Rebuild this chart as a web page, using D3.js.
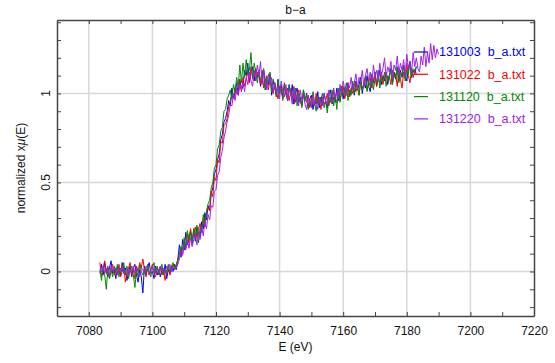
<!DOCTYPE html>
<html>
<head>
<meta charset="utf-8">
<script src="https://cdn.jsdelivr.net/npm/d3@7"></script>
<style>
  body { margin: 0; background: #fff; }
  svg { display: block; font-family: "Liberation Sans", Arial, sans-serif; }
</style>
</head>
<body>
<svg id="chart" width="555" height="363"></svg>
<script>
// chart data
const chartTitle = 'b\u2212a';
const xLabel = 'E (eV)';
const seriesNames = ['131003 b_a.txt', '131022 b_a.txt', '131120 b_a.txt', '131220 b_a.txt'];
const xMajorTicks = [7080, 7100, 7120, 7140, 7160, 7180, 7200, 7220];
const yMajorTicks = [0, 0.5, 1];
const yTickLabels = ['0', '0.5', '1'];

// energy grid of the scans (eV)
const energyStart = 7083.5;
const energyStep = 0.5;

const scan131003 = [
  -0.01, 0.04, -0.02, 0.05, 0.00, -0.03, 0.02, 0.06, -0.01, 0.01,
  -0.04, 0.03, 0.01, -0.02, 0.05, -0.01, 0.02, -0.05, 0.00, 0.03,
  -0.03, 0.02, 0.04, -0.02, -0.06, 0.01, -0.03, -0.12, 0.03, -0.02,
  0.02, 0.05, -0.01, 0.00, -0.04, 0.03, -0.02, 0.01, -0.03, 0.02,
  -0.02, 0.04, -0.04, 0.01, -0.01, 0.03, 0.00, 0.04, 0.01, 0.07,
  0.15, 0.08, 0.18, 0.12, 0.22, 0.15, 0.19, 0.23, 0.16, 0.24,
  0.17, 0.25, 0.21, 0.19, 0.28, 0.24, 0.33, 0.29, 0.37, 0.34,
  0.44, 0.47, 0.55, 0.57, 0.63, 0.66, 0.74, 0.77, 0.84, 0.86,
  0.90, 0.96, 0.93, 1.03, 0.97, 1.00, 1.06, 0.99, 1.08, 1.02,
  1.04, 1.13, 1.10, 1.17, 1.06, 1.12, 1.15, 1.07, 1.14, 1.09,
  1.12, 1.04, 1.09, 1.13, 1.02, 1.08, 1.05, 1.11, 0.99, 1.07,
  1.03, 0.98, 1.08, 1.00, 1.05, 0.97, 1.04, 1.01, 0.96, 1.05,
  0.99, 1.05, 0.94, 1.00, 1.03, 0.95, 0.98, 0.93, 1.02, 0.96,
  1.00, 0.92, 0.97, 0.99, 0.91, 0.96, 0.94, 1.01, 0.92, 0.98,
  0.93, 1.00, 0.95, 0.92, 0.99, 1.02, 0.94, 0.98, 0.95, 1.03,
  0.96, 1.01, 1.04, 0.97, 1.03, 0.99, 1.06, 0.98, 1.02, 1.05,
  0.99, 1.07, 1.02, 1.05, 1.09, 1.00, 1.06, 1.03, 1.10, 1.04,
  1.01, 1.09, 1.06, 1.12, 1.04, 1.08, 1.13, 1.05, 1.10, 1.07,
  1.12, 1.05, 1.10, 1.14, 1.06, 1.12, 1.08, 1.15, 1.07, 1.13,
  1.09, 1.16, 1.10, 1.07, 1.14, 1.18, 1.09, 1.13, 1.11, 1.15
];

const scan131022 = [
  0.05, -0.03, 0.02, 0.06, -0.01, 0.03, -0.04, 0.01, 0.04, -0.02,
  0.02, -0.01, 0.04, -0.03, 0.00, 0.03, -0.06, -0.01, 0.02, 0.05,
  -0.02, 0.01, -0.04, 0.03, 0.00, 0.05, 0.02, 0.07, 0.01, -0.03,
  0.03, -0.02, 0.01, 0.04, -0.01, -0.03, 0.02, 0.00, 0.03, -0.02,
  0.01, -0.05, 0.00, 0.03, -0.02, 0.01, 0.04, 0.02, 0.03, 0.06,
  0.09, 0.12, 0.10, 0.17, 0.14, 0.21, 0.16, 0.24, 0.18, 0.21,
  0.25, 0.19, 0.24, 0.27, 0.22, 0.30, 0.25, 0.33, 0.36, 0.34,
  0.45, 0.42, 0.53, 0.51, 0.63, 0.61, 0.73, 0.72, 0.82, 0.83,
  0.86, 0.93, 0.95, 0.99, 0.97, 1.03, 1.00, 1.02, 1.07, 1.01,
  1.09, 1.04, 1.08, 1.12, 1.06, 1.15, 1.09, 1.13, 1.07, 1.12,
  1.10, 1.05, 1.13, 1.03, 1.07, 1.10, 1.02, 1.09, 1.04, 1.00,
  1.06, 1.01, 0.97, 1.04, 1.02, 0.98, 1.06, 0.99, 1.03, 0.96,
  1.01, 0.97, 1.04, 0.95, 0.99, 1.02, 0.96, 0.93, 1.00, 0.97,
  0.95, 0.99, 0.92, 0.98, 0.96, 0.93, 1.00, 0.94, 0.97, 0.91,
  0.98, 0.94, 0.96, 1.00, 0.93, 0.98, 0.95, 1.01, 0.97, 0.95,
  1.02, 0.96, 1.00, 1.04, 0.97, 1.01, 1.05, 0.98, 1.03, 1.00,
  1.06, 1.01, 1.04, 0.99, 1.07, 1.03, 1.05, 1.09, 1.02, 1.06,
  1.09, 1.03, 1.07, 1.11, 1.04, 1.08, 1.06, 1.12, 1.05, 1.09,
  1.12, 1.07, 1.10, 1.05, 1.13, 1.09, 1.11, 1.04, 1.14, 1.08,
  1.03, 1.12, 1.08, 1.17, 1.10, 1.06, 1.14, 1.09, 1.13, 1.11
];

const scan131120 = [
  0.01, -0.05, 0.03, -0.02, -0.10, 0.02, -0.04, 0.01, -0.03, 0.03,
  -0.01, 0.04, -0.03, 0.02, 0.00, 0.05, -0.02, 0.03, -0.04, 0.01,
  0.03, -0.02, -0.09, 0.01, -0.03, 0.04, 0.00, -0.02, 0.02, -0.01,
  0.04, 0.00, -0.03, 0.02, 0.05, -0.01, 0.03, -0.02, 0.01, 0.04,
  -0.02, 0.02, -0.01, 0.04, 0.00, 0.03, 0.05, 0.01, 0.04, 0.07,
  0.10, 0.14, 0.12, 0.19, 0.13, 0.23, 0.18, 0.22, 0.15, 0.24,
  0.19, 0.26, 0.16, 0.25, 0.22, 0.32, 0.27, 0.34, 0.38, 0.40,
  0.47, 0.50, 0.58, 0.60, 0.69, 0.71, 0.79, 0.81, 0.90, 0.91,
  0.97, 0.99, 1.02, 0.97, 1.05, 1.01, 1.09, 1.04, 1.16, 1.06,
  1.17, 1.09, 1.19, 1.11, 1.13, 1.23, 1.08, 1.17, 1.12, 1.06,
  1.13, 1.07, 1.10, 1.14, 1.02, 1.09, 1.06, 1.12, 1.01, 1.08,
  1.04, 0.98, 1.07, 1.01, 1.03, 0.96, 1.05, 1.00, 0.97, 1.04,
  1.02, 0.95, 0.99, 1.03, 0.93, 1.00, 0.97, 0.92, 1.02, 0.96,
  0.99, 0.91, 0.96, 0.93, 1.01, 0.95, 0.90, 0.98, 0.94, 0.97,
  1.00, 0.92, 0.96, 0.89, 0.98, 0.95, 1.02, 0.93, 0.99, 0.91,
  1.03, 0.95, 1.04, 0.99, 1.01, 1.06, 0.96, 1.02, 0.99, 1.07,
  1.00, 1.06, 1.03, 0.99, 1.08, 1.02, 1.05, 1.10, 1.01, 1.07,
  1.04, 1.11, 1.02, 1.08, 1.06, 1.13, 1.03, 1.09, 1.07, 1.12,
  1.04, 1.10, 1.08, 1.14, 1.05, 1.11, 1.09, 1.15, 1.06, 1.12,
  1.10, 1.16, 1.07, 1.13, 1.11, 1.17, 1.09, 1.14, 1.13, 1.15
];

const scan131220 = [
  0.02, 0.00, 0.03, -0.01, 0.02, 0.01, -0.02, 0.03, 0.00, 0.02,
  0.01, -0.02, 0.02, 0.00, 0.03, -0.01, 0.01, 0.02, -0.02, 0.01,
  0.00, 0.03, -0.01, 0.02, 0.00, -0.03, 0.02, 0.01, -0.01, 0.03,
  0.02, -0.02, 0.01, 0.03, 0.00, 0.02, -0.01, 0.01, 0.03, 0.00,
  0.02, -0.01, 0.03, 0.01, 0.04, 0.00, 0.02, 0.01, 0.02, 0.04,
  0.07, 0.11, 0.09, 0.15, 0.12, 0.18, 0.13, 0.19, 0.14, 0.18,
  0.21, 0.15, 0.22, 0.18, 0.25, 0.20, 0.28, 0.24, 0.32, 0.29,
  0.37, 0.36, 0.45, 0.46, 0.54, 0.56, 0.64, 0.68, 0.75, 0.79,
  0.84, 0.88, 0.94, 0.93, 1.00, 0.96, 1.03, 0.99, 1.05, 1.02,
  1.06, 1.01, 1.09, 1.05, 1.12, 1.07, 1.04, 1.13, 1.08, 1.16,
  1.10, 1.18, 1.05, 1.13, 1.08, 1.02, 1.11, 1.05, 1.09, 1.01,
  1.06, 1.00, 1.04, 0.97, 1.07, 1.01, 0.98, 1.05, 0.96, 1.02,
  1.00, 0.94, 1.03, 0.97, 0.99, 0.93, 1.02, 0.96, 0.99, 0.94,
  0.91, 0.98, 0.95, 0.92, 0.99, 0.94, 0.97, 0.91, 0.98, 0.95,
  0.93, 1.00, 0.96, 0.94, 1.02, 0.97, 0.95, 1.03, 0.98, 1.01,
  0.97, 1.05, 1.00, 1.07, 1.02, 0.99, 1.06, 1.03, 1.09, 1.02,
  1.06, 1.11, 1.03, 1.09, 1.06, 1.13, 1.04, 1.10, 1.14, 1.07,
  1.12, 1.05, 1.16, 1.09, 1.13, 1.07, 1.17, 1.10, 1.14, 1.20,
  1.09, 1.15, 1.12, 1.18, 1.08, 1.16, 1.13, 1.21, 1.11, 1.17,
  1.13, 1.19, 1.10, 1.22, 1.14, 1.18, 1.12, 1.23, 1.15, 1.20,
  1.14, 1.12, 1.21, 1.16, 1.26, 1.15, 1.23, 1.17, 1.28, 1.19,
  1.27, 1.20, 1.25, 1.22
];

const seriesValues = [scan131003, scan131022, scan131120, scan131220];
const seriesColors = ['#0000ff', '#ff0000', '#008c00', '#a020f0'];

const svg = d3.select('#chart');
const width = +svg.attr('width');
const height = +svg.attr('height');
const margin = { top: 20, right: 21, bottom: 47, left: 57 };
const innerWidth = width - margin.left - margin.right;
const innerHeight = height - margin.top - margin.bottom;

const xScale = d3.scaleLinear().domain([7070, 7220]).range([0, innerWidth]);
const yScale = d3.scaleLinear().domain([-0.25, 1.4125]).range([innerHeight, 0]);

const grp = svg
  .append('g')
  .attr('transform', 'translate(' + margin.left + ',' + margin.top + ')');

// grid
grp
  .append('g')
  .selectAll('line')
  .data(xMajorTicks.filter((d) => d < 7220))
  .join('line')
  .attr('x1', (d) => xScale(d))
  .attr('x2', (d) => xScale(d))
  .attr('y1', 0)
  .attr('y2', innerHeight)
  .attr('stroke', '#d8d8d8')
  .attr('stroke-width', 1.5);

grp
  .append('g')
  .selectAll('line')
  .data(yMajorTicks)
  .join('line')
  .attr('x1', 0)
  .attr('x2', innerWidth)
  .attr('y1', (d) => yScale(d))
  .attr('y2', (d) => yScale(d))
  .attr('stroke', '#d8d8d8')
  .attr('stroke-width', 1.5);

// spectra
const line = d3
  .line()
  .x((d, i) => xScale(energyStart + i * energyStep))
  .y((d) => yScale(d));

grp
  .selectAll('.scan')
  .data(seriesValues)
  .join('path')
  .attr('class', 'scan')
  .attr('fill', 'none')
  .attr('stroke', (d, i) => seriesColors[i])
  .attr('stroke-width', 1)
  .attr('d', line);

// axes, ticks pointing inward on all four sides
const xMinor = d3.range(7070, 7221, 10);
const yMinor = d3.range(-0.2, 1.41, 0.1);

function styleAxis(g) {
  g.select('.domain').attr('stroke', '#444').attr('stroke-width', 1.5);
  g.selectAll('.tick line').attr('stroke', '#444').attr('stroke-width', 1);
  g.selectAll('.tick text').filter(function () { return this.textContent === ''; }).remove();
}

grp
  .append('g')
  .attr('transform', 'translate(0,' + innerHeight + ')')
  .call(d3.axisBottom(xScale).tickValues(xMinor).tickSize(-4).tickSizeOuter(0).tickPadding(10)
    .tickFormat((d) => (xMajorTicks.includes(d) ? d : '')))
  .call(styleAxis)
  .call((g) => g.selectAll('text').attr('font-size', 12).attr('fill', '#111'));

grp
  .append('g')
  .call(d3.axisTop(xScale).tickValues(xMinor).tickSize(-4).tickSizeOuter(0).tickFormat(''))
  .call(styleAxis);

grp
  .append('g')
  .call(d3.axisLeft(yScale).tickValues(yMinor).tickSize(-4).tickSizeOuter(0).tickFormat(''))
  .call(styleAxis);

grp
  .append('g')
  .attr('transform', 'translate(' + innerWidth + ',0)')
  .call(d3.axisRight(yScale).tickValues(yMinor).tickSize(-4).tickSizeOuter(0).tickFormat(''))
  .call(styleAxis);

// rotated y tick labels
grp
  .selectAll('.ylab')
  .data(yMajorTicks)
  .join('text')
  .attr('class', 'ylab')
  .attr('transform', (d) => 'translate(-7,' + yScale(d) + ') rotate(-90)')
  .attr('text-anchor', 'middle')
  .attr('font-size', 12)
  .attr('fill', '#111')
  .text((d, i) => yTickLabels[i]);

// titles
svg
  .append('text')
  .attr('x', margin.left + innerWidth / 2)
  .attr('y', 14)
  .attr('text-anchor', 'middle')
  .attr('font-size', 12)
  .attr('fill', '#111')
  .text(chartTitle);

svg
  .append('text')
  .attr('x', margin.left + innerWidth / 2)
  .attr('y', 351)
  .attr('text-anchor', 'middle')
  .attr('font-size', 12)
  .attr('fill', '#111')
  .text(xLabel);

const yTitle = svg
  .append('text')
  .attr('transform', 'translate(25,' + (margin.top + innerHeight / 2) + ') rotate(-90)')
  .attr('text-anchor', 'middle')
  .attr('font-size', 12)
  .attr('fill', '#111');
yTitle.append('tspan').text('normalized x');
yTitle.append('tspan').attr('font-style', 'italic').text('\u03bc');
yTitle.append('tspan').text('(E)');

// legend
const legend = svg
  .append('g')
  .selectAll('g')
  .data(seriesNames)
  .join('g')
  .attr('transform', (d, i) => 'translate(414,' + (52 + i * 22.3) + ')');

legend
  .append('line')
  .attr('x1', 0)
  .attr('x2', 14)
  .attr('stroke', (d, i) => seriesColors[i])
  .attr('stroke-width', 1.2);

legend
  .append('text')
  .attr('x', 25)
  .attr('dy', '0.35em')
  .attr('font-size', 12.5)
  .attr('fill', (d, i) => seriesColors[i])
  .style('white-space', 'pre')
  .text((d) => d.replace(' ', '  '));
</script>
</body>
</html>
